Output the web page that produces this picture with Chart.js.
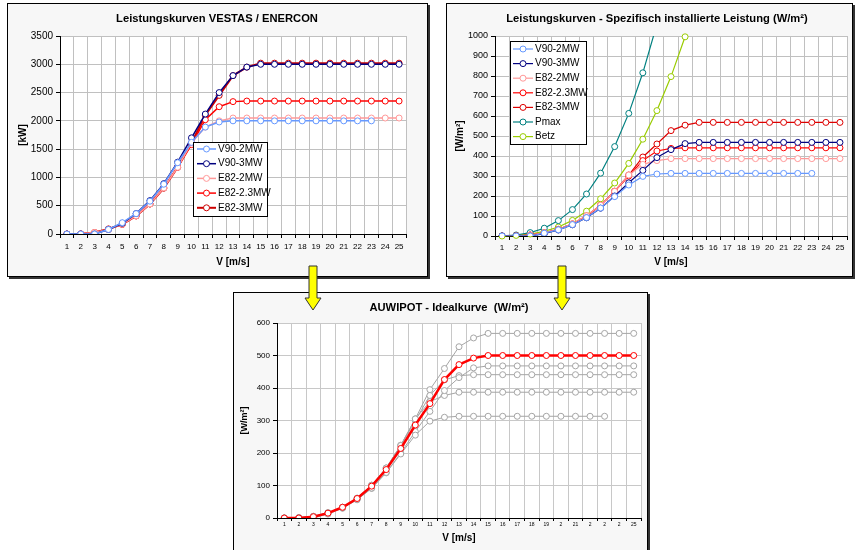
<!DOCTYPE html>
<html>
<head>
<meta charset="utf-8">
<script src="https://cdn.jsdelivr.net/npm/chart.js@4.4.1/dist/chart.umd.min.js"></script>
<style>
body{margin:0;background:#fff;width:857px;height:550px;overflow:hidden;position:relative}
.frame{position:absolute;border:1px solid #000;background:#f7f7f7;box-shadow:2px 2px 0 #333}
.frame canvas{display:block}
#arrows{position:absolute;left:0;top:0;z-index:5}
</style>
</head>
<body>
<div class="frame" style="left:7px;top:3px;width:419px;height:272px"><canvas id="c1" width="419" height="272"></canvas></div>
<div class="frame" style="left:446px;top:3px;width:405px;height:272px"><canvas id="c2" width="405" height="272"></canvas></div>
<div class="frame" style="left:233px;top:292px;width:413px;height:260px"><canvas id="c3" width="413" height="260"></canvas></div>
<svg id="arrows" width="857" height="550">
  <polygon points="309,266 317,266 317,298 321,298 313,310 305,298 309,298" fill="#ffff00" stroke="#333" stroke-width="1"/>
  <polygon points="558,266 566,266 566,298 570,298 562,310 554,298 558,298" fill="#ffff00" stroke="#333" stroke-width="1"/>
</svg>
<script>
// wind speed categories
const speeds = [1,2,3,4,5,6,7,8,9,10,11,12,13,14,15,16,17,18,19,20,21,22,23,24,25];
const speedLabels3 = ['1','2','3','4','5','6','7','8','9','10','11','12','13','14','15','16','17','18','19','2','21','2','2','2','25'];

// chart 1: power curves in kW
const kwV90_2 = [0,0,0,80,200,360,580,880,1260,1620,1890,1980,2000,2000,2000,2000,2000,2000,2000,2000,2000,2000,2000,null,null];
const kwV90_3 = [0,0,0,80,190,360,590,890,1270,1700,2120,2500,2800,2950,3000,3000,3000,3000,3000,3000,3000,3000,3000,3000,3000];
const kwE82_2 = [0,3,25,82,174,321,532,815,1180,1612,1890,2000,2050,2050,2050,2050,2050,2050,2050,2050,2050,2050,2050,2050,2050];
const kwE82_23 = [0,3,25,82,174,321,532,815,1180,1580,2020,2250,2340,2350,2350,2350,2350,2350,2350,2350,2350,2350,2350,2350,2350];
const kwE82_3 = [0,0,25,90,170,320,530,810,1180,1610,2100,2450,2800,2950,3020,3020,3020,3020,3020,3020,3020,3020,3020,3020,3020];

// chart 2: specific power in W/m2
const wmV90_2 = [0,0,0,14,31,57,92,140,197,255,298,310,313,313,313,313,313,313,313,313,313,313,313,null,null];
const wmV90_3 = [0,0,0,12,30,56,91,139,200,266,328,392,432,462,468,468,468,468,468,468,468,468,468,468,468];
const wmE82_2 = [0,1,5,16,33,61,101,154,223,305,358,377,387,387,387,387,387,387,387,387,387,387,387,387,387];
const wmE82_23 = [0,1,5,16,33,61,101,154,223,300,377,425,438,441,441,441,441,441,441,441,441,441,441,441,441];
const wmE82_3 = [0,1,5,16,33,59,98,153,224,305,395,460,527,554,568,568,568,568,568,568,568,568,568,568,568];
const wmPmax = [1,5,17,39,77,132,210,314,447,613,816,1059,null,null,null,null,null,null,null,null,null,null,null,null,null];
const wmBetz = [0,3,10,23,45,78,124,186,265,363,484,627,797,996,null,null,null,null,null,null,null,null,null,null,null];

// chart 3: ideal curve
const wmIdeal = [0,0,4,15,33,60,98,149,214,286,352,426,472,492,500,500,500,500,500,500,500,500,500,500,500];

const FONT = "'Liberation Sans', Arial, sans-serif";
Chart.defaults.font.family = FONT;
Chart.defaults.color = '#000';

const plotBg = {
  id: 'plotBg',
  beforeDraw(chart) {
    const a = chart.chartArea, ctx = chart.ctx;
    ctx.save();
    ctx.fillStyle = '#fff';
    ctx.fillRect(a.left, a.top, a.right - a.left, a.bottom - a.top);
    ctx.restore();
  }
};

// chart title, placed where excel put it (not centred on canvas)
const panelTitle = {
  id: 'panelTitle',
  afterDraw(chart, args, o) {
    if (!o || !o.text) return;
    const ctx = chart.ctx;
    ctx.save();
    ctx.font = 'bold 11.2px ' + FONT;
    ctx.fillStyle = '#000';
    ctx.textAlign = 'center';
    ctx.textBaseline = 'middle';
    ctx.fillText(o.text, o.x, o.y);
    ctx.restore();
  }
};

// legend box drawn inside the plot, like the excel one
const boxLegend = {
  id: 'boxLegend',
  afterDraw(chart, args, o) {
    if (!o || o.x === undefined) return;
    const ctx = chart.ctx;
    ctx.save();
    ctx.fillStyle = '#fff';
    ctx.fillRect(o.x, o.y, o.w, o.h);
    ctx.strokeStyle = '#000';
    ctx.lineWidth = 1;
    ctx.strokeRect(o.x + 0.5, o.y + 0.5, o.w, o.h);
    ctx.font = '10px ' + FONT;
    ctx.textBaseline = 'middle';
    chart.data.datasets.forEach((ds, i) => {
      const cy = o.y + o.first + i * o.row;
      ctx.strokeStyle = ds.borderColor;
      ctx.lineWidth = ds.borderWidth;
      ctx.beginPath();
      ctx.moveTo(o.x + o.l0, cy);
      ctx.lineTo(o.x + o.l1, cy);
      ctx.stroke();
      ctx.beginPath();
      ctx.arc(o.x + (o.l0 + o.l1) / 2, cy, 3, 0, Math.PI * 2);
      ctx.fillStyle = '#fff';
      ctx.fill();
      ctx.lineWidth = 1;
      ctx.stroke();
      ctx.fillStyle = '#000';
      ctx.fillText(ds.label, o.x + o.tx, cy);
    });
    ctx.restore();
  }
};
Chart.register(plotBg, panelTitle, boxLegend);

function series(label, data, color, width) {
  return {
    label: label, data: data,
    borderColor: color, borderWidth: width,
    pointRadius: 3, pointBorderWidth: 1, pointBorderColor: color,
    pointBackgroundColor: '#fff', tension: 0, fill: false
  };
}

function makeOptions(o) {
  return {
    responsive: false,
    animation: false,
    layout: { padding: { left: 0, right: o.padRight, top: o.plotTop, bottom: 0 } },
    plugins: {
      legend: { display: false },
      tooltip: { enabled: false },
      title: { display: false },
      panelTitle: { text: o.title, x: o.titleX, y: o.titleY },
      boxLegend: o.legend || false
    },
    scales: {
      x: {
        type: 'category', offset: true,
        grid: { offset: true, color: o.gridColor, tickColor: '#000', tickLength: o.xTickLen },
        border: { color: '#000' },
        ticks: { font: { size: o.xTickSize }, padding: o.xTickPad, maxRotation: 0, autoSkip: false, color: '#000' },
        title: { display: true, text: 'V [m/s]', color: '#000', font: { size: 10, weight: 'bold' }, padding: { top: 0, bottom: o.xTitlePad } },
        afterFit: s => { s.height = o.xHeight; }
      },
      y: {
        min: 0, max: o.yMax,
        ticks: { stepSize: o.yStep, font: { size: o.yTickSize }, padding: 3, color: '#000', callback: v => String(v) },
        grid: { color: o.gridColor, tickColor: '#000', tickLength: 4 },
        border: { color: '#000' },
        title: { display: true, text: o.yTitle, color: '#000', font: { size: o.yTitleSize, weight: 'bold' }, padding: { top: o.yTitlePad, bottom: 0 } },
        afterFit: s => { s.width = o.yWidth; }
      }
    }
  };
}

new Chart(document.getElementById('c1'), {
  type: 'line',
  data: {
    labels: speeds,
    datasets: [
      series('V90-2MW', kwV90_2, '#6699ff', 1.5),
      series('V90-3MW', kwV90_3, '#000080', 1.5),
      series('E82-2MW', kwE82_2, '#ff9999', 1.5),
      series('E82-2.3MW', kwE82_23, '#ff0000', 1.5),
      series('E82-3MW', kwE82_3, '#cc0000', 2)
    ]
  },
  options: makeOptions({
    title: 'Leistungskurven VESTAS / ENERCON', titleX: 209, titleY: 14.5,
    padRight: 21, plotTop: 32,
    xHeight: 42, xTickLen: 4, xTickSize: 8, xTickPad: 4, xTitlePad: 8,
    yWidth: 52, yMax: 3500, yStep: 500, yTickSize: 10, yTitle: '[kW]', yTitleSize: 10, yTitlePad: 9,
    gridColor: '#c0c0c0',
    legend: { x: 185, y: 138, w: 74, h: 74, first: 7, row: 14.7, l0: 4, l1: 23, tx: 25 }
  })
});

new Chart(document.getElementById('c2'), {
  type: 'line',
  data: {
    labels: speeds,
    datasets: [
      series('V90-2MW', wmV90_2, '#6699ff', 1.2),
      series('V90-3MW', wmV90_3, '#000080', 1.2),
      series('E82-2MW', wmE82_2, '#ff9999', 1.2),
      series('E82-2.3MW', wmE82_23, '#ff0000', 1.2),
      series('E82-3MW', wmE82_3, '#dd0000', 1.2),
      series('Pmax', wmPmax, '#008080', 1.2),
      Object.assign(series('Betz', wmBetz, '#99cc00', 1.2), { clip: 6 })
    ]
  },
  options: makeOptions({
    title: 'Leistungskurven - Spezifisch installierte Leistung (W/m²)', titleX: 210, titleY: 15,
    padRight: 5, plotTop: 32,
    xHeight: 40, xTickLen: 4, xTickSize: 8, xTickPad: 3, xTitlePad: 8,
    yWidth: 48, yMax: 1000, yStep: 100, yTickSize: 9, yTitle: '[W/m²]', yTitleSize: 10, yTitlePad: 7,
    gridColor: '#c0c0c0',
    legend: { x: 63, y: 37, w: 76, h: 103, first: 8, row: 14.6, l0: 3, l1: 23, tx: 25 }
  })
});

const grey = '#a6a6a6';
new Chart(document.getElementById('c3'), {
  type: 'line',
  data: {
    labels: speedLabels3,
    datasets: [
      series('Idealkurve', wmIdeal, '#ff0000', 2.5),
      series('V90-2MW', wmV90_2, grey, 1),
      series('V90-3MW', wmV90_3, grey, 1),
      series('E82-2MW', wmE82_2, grey, 1),
      series('E82-2.3MW', wmE82_23, grey, 1),
      series('E82-3MW', wmE82_3, grey, 1)
    ]
  },
  options: makeOptions({
    title: 'AUWIPOT - Idealkurve  (W/m²)', titleX: 215, titleY: 15,
    padRight: 6, plotTop: 30,
    xHeight: 35, xTickLen: 3, xTickSize: 5, xTickPad: 1, xTitlePad: 9,
    yWidth: 43, yMax: 600, yStep: 100, yTickSize: 8, yTitle: '[W/m²]', yTitleSize: 9, yTitlePad: 5,
    gridColor: '#c8c8c8'
  })
});
</script>
</body>
</html>
